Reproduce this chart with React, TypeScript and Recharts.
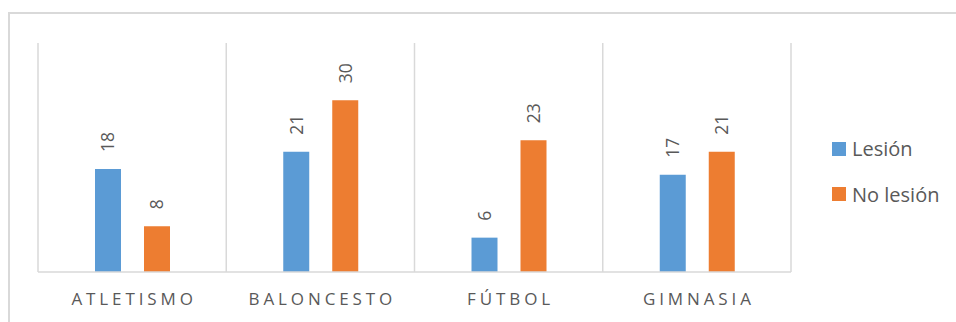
import React from 'react';
import { BarChart, Bar, XAxis, YAxis, CartesianGrid, Legend, LabelList } from 'recharts';

const categories = ['ATLETISMO', 'BALONCESTO', 'FÚTBOL', 'GIMNASIA'];
const lesion = [18, 21, 6, 17];
const noLesion = [8, 30, 23, 21];
const seriesNames = ['Lesión', 'No lesión'];
const seriesColors = ['#5B9BD5', '#ED7D31'];

const data = categories.map((name, i) => ({
  name,
  lesion: lesion[i],
  noLesion: noLesion[i],
}));

const FONT = '"Open Sans", sans-serif';
const GRID = '#D9D9D9';
const TEXT = '#595959';

const CategoryTick = (props: any) => {
  const { x, y, payload } = props;
  return (
    <text
      x={x + 2}
      y={y}
      dy="0.71em"
      textAnchor="middle"
      fill={TEXT}
      fontFamily={FONT}
      fontSize={17}
      letterSpacing={3.9}
    >
      {payload.value}
    </text>
  );
};

const VerticalLabel = (props: any) => {
  const { x, y, width, value } = props;
  const cx = x + width / 2;
  const ty = y - 17;
  return (
    <text
      x={cx}
      y={ty}
      dy="0.36em"
      transform={`rotate(-90 ${cx} ${ty})`}
      textAnchor="start"
      fill={TEXT}
      fontFamily={FONT}
      fontSize={17.5}
    >
      {value}
    </text>
  );
};

const LegendContent = () => (
  <div style={{ fontFamily: FONT, fontSize: 20, color: TEXT }}>
    {seriesNames.map((n, i) => (
      <div key={n} style={{ display: 'flex', alignItems: 'center', height: 45.5 }}>
        <span style={{ width: 14, height: 14, background: seriesColors[i], marginRight: 6, display: 'inline-block' }} />
        <span>{n}</span>
      </div>
    ))}
  </div>
);

export default function App() {
  return (
    <div style={{ position: 'absolute', left: 0, top: 0, width: 956, height: 322, background: '#fff', overflow: 'hidden' }}>
      <div
        style={{
          position: 'absolute',
          left: 8,
          top: 12,
          width: 1000,
          height: 400,
          border: `2px solid ${GRID}`,
          boxSizing: 'border-box',
        }}
      />
      <div style={{ position: 'absolute', left: 0, top: 0 }}>
        <BarChart
          width={956}
          height={322}
          data={data}
          margin={{ top: 43, right: 165, left: 38, bottom: 20 }}
          barCategoryGap={57}
          barGap={23}
        >
          <CartesianGrid
            horizontal={false}
            stroke={GRID}
            strokeWidth={1.5}
            verticalCoordinatesGenerator={({ offset }: any) =>
              Array.from({ length: categories.length + 1 }, (_, i) => offset.left + (i * offset.width) / categories.length)
            }
          />
          <XAxis
            dataKey="name"
            height={30}
            axisLine={{ stroke: GRID, strokeWidth: 1.5 }}
            tickLine={false}
            tickSize={0}
            tickMargin={21}
            tick={<CategoryTick />}
            interval={0}
          />
          <YAxis hide domain={[0, 40]} />
          <Legend
            layout="vertical"
            align="center"
            verticalAlign="middle"
            content={<LegendContent />}
            wrapperStyle={{ left: 832, top: 126, width: 124 }}
          />
          <Bar dataKey="lesion" name={seriesNames[0]} fill={seriesColors[0]} isAnimationActive={false}>
            <LabelList dataKey="lesion" content={<VerticalLabel />} />
          </Bar>
          <Bar dataKey="noLesion" name={seriesNames[1]} fill={seriesColors[1]} isAnimationActive={false}>
            <LabelList dataKey="noLesion" content={<VerticalLabel />} />
          </Bar>
        </BarChart>
      </div>
    </div>
  );
}
